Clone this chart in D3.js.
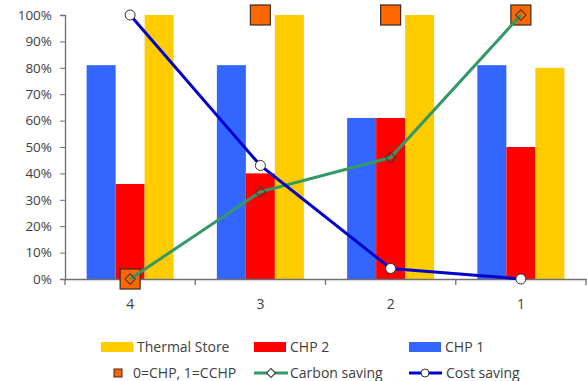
<!DOCTYPE html>
<html>
<head>
<meta charset="utf-8">
<script src="https://cdn.jsdelivr.net/npm/d3@7"></script>
<style>
  html, body { margin: 0; padding: 0; background: #fff; }
  svg { display: block; }
  text { font-family: "Open Sans", "Liberation Sans", sans-serif; fill: #404040; }
</style>
</head>
<body>
<svg id="chart" width="587" height="381"></svg>
<script>
// Scenario categories along the x axis
const categories = ["4", "3", "2", "1"];

// Bar series (share of demand, %)
const chp1 = [81, 81, 61, 81];
const chp2 = [36, 40, 61, 50];
const thermalStore = [100, 100, 100, 80];

// Line series (%)
const carbonSaving = [0, 33, 46, 100];
const costSaving = [100, 43, 4, 0];

// Configuration flag: 0 = CHP, 1 = CCHP
const cchpFlag = [0, 1, 1, 1];

const yTicks = [0, 10, 20, 30, 40, 50, 60, 70, 80, 90, 100];

const barSeries = [
  { name: "CHP 1", values: chp1, color: "#3366FF" },
  { name: "CHP 2", values: chp2, color: "#FF0000" },
  { name: "Thermal Store", values: thermalStore, color: "#FFCC00" }
];

const svg = d3.select("#chart");
const margin = { left: 65, right: 1, top: 15, bottom: 102 };
const W = 587, H = 381;

const x = d3.scaleBand().domain(categories).range([margin.left, W - margin.right]).paddingInner(0).paddingOuter(0);
const y = d3.scaleLinear().domain([0, 100]).range([H - margin.bottom, margin.top]);

const groupWidth = 87;
const xs = d3.scaleBand().domain(barSeries.map(d => d.name)).range([0, groupWidth]).padding(0);

// Bars
barSeries.forEach(s => {
  svg.append("g").selectAll("rect").data(s.values).join("rect")
    .attr("x", (d, i) => x(categories[i]) + (x.bandwidth() - groupWidth) / 2 + xs(s.name))
    .attr("y", d => y(d))
    .attr("width", xs.bandwidth())
    .attr("height", d => y(0) - y(d))
    .attr("fill", s.color);
});

// Y axis
const yAxis = d3.axisLeft(y).tickValues(yTicks).tickFormat(d => d + "%").tickSize(5).tickPadding(8);
const gy = svg.append("g").attr("transform", `translate(${margin.left},0)`).call(yAxis);
gy.select(".domain").attr("stroke", "#6f6f6f").attr("stroke-width", 1.3);
gy.selectAll(".tick line").attr("stroke", "#6f6f6f");
gy.selectAll(".tick text").style("font-size", "13.5px").attr("fill", "#404040");

// X axis
const xAxis = d3.axisBottom(x).tickSize(0).tickPadding(20);
const gx = svg.append("g").attr("transform", `translate(0,${y(0)})`).call(xAxis);
gx.select(".domain").attr("stroke", "#6f6f6f").attr("stroke-width", 1.5);
gx.selectAll(".tick text").style("font-size", "14px").attr("fill", "#404040");
// Category boundary ticks
const bounds = categories.map(c => x(c)).concat([x(categories[categories.length - 1]) + x.bandwidth()]);
gx.selectAll(".bound").data(bounds).join("line")
  .attr("x1", d => d).attr("x2", d => d).attr("y1", 0).attr("y2", 6)
  .attr("stroke", "#6f6f6f").attr("stroke-width", 1.3);

const cx = i => x(categories[i]) + x.bandwidth() / 2;

// CCHP flag markers
svg.append("g").selectAll("rect").data(cchpFlag).join("rect")
  .attr("x", (d, i) => cx(i) - 10)
  .attr("y", d => y(d * 100) - 10)
  .attr("width", 20).attr("height", 20)
  .attr("fill", "#FF6600").attr("stroke", "#3a2a20").attr("stroke-width", 1.2);

// Carbon saving line
const line = d3.line().x((d, i) => cx(i)).y(d => y(d));
svg.append("path").datum(carbonSaving).attr("d", line)
  .attr("fill", "none").attr("stroke", "#339966").attr("stroke-width", 3);
svg.append("g").selectAll("path").data(carbonSaving).join("path")
  .attr("transform", (d, i) => `translate(${cx(i)},${y(d)}) rotate(45)`)
  .attr("d", d3.symbol().type(d3.symbolSquare).size(55))
  .attr("fill", "none").attr("stroke", "#3a3a3a").attr("stroke-width", 1);

// Cost saving line
svg.append("path").datum(costSaving).attr("d", line)
  .attr("fill", "none").attr("stroke", "#0000CC").attr("stroke-width", 3);
svg.append("g").selectAll("circle").data(costSaving).join("circle")
  .attr("cx", (d, i) => cx(i)).attr("cy", d => y(d)).attr("r", 5)
  .attr("fill", "#fff").attr("stroke", "#333").attr("stroke-width", 1);

// Legend
const lg = svg.append("g").style("font-size", "14px");
const row1 = 347, row2 = 373;
const swatches = [
  { name: "Thermal Store", color: "#FFCC00", x: 101 },
  { name: "CHP 2", color: "#FF0000", x: 254 },
  { name: "CHP 1", color: "#3366FF", x: 409 }
];
swatches.forEach(s => {
  lg.append("rect").attr("x", s.x).attr("y", row1 - 5).attr("width", 32).attr("height", 10).attr("fill", s.color);
  lg.append("text").attr("x", s.x + 36).attr("y", row1).attr("dy", "0.35em").text(s.name);
});
// Flag legend
lg.append("rect").attr("x", 114).attr("y", row2 - 4).attr("width", 8).attr("height", 8)
  .attr("fill", "#FF6600").attr("stroke", "#3a2a20").attr("stroke-width", 1);
lg.append("text").attr("x", 133).attr("y", row2).attr("dy", "0.35em").text("0=CHP, 1=CCHP");
// Carbon saving legend
lg.append("line").attr("x1", 254).attr("x2", 288).attr("y1", row2).attr("y2", row2)
  .attr("stroke", "#339966").attr("stroke-width", 3);
lg.append("path").attr("transform", `translate(271,${row2}) rotate(45)`)
  .attr("d", d3.symbol().type(d3.symbolSquare).size(40))
  .attr("fill", "#fff").attr("stroke", "#333").attr("stroke-width", 1);
lg.append("text").attr("x", 290).attr("y", row2).attr("dy", "0.35em").text("Carbon saving");
// Cost saving legend
lg.append("line").attr("x1", 409).attr("x2", 442).attr("y1", row2).attr("y2", row2)
  .attr("stroke", "#0000CC").attr("stroke-width", 3);
lg.append("circle").attr("cx", 425).attr("cy", row2).attr("r", 4)
  .attr("fill", "#fff").attr("stroke", "#333").attr("stroke-width", 1);
lg.append("text").attr("x", 446).attr("y", row2).attr("dy", "0.35em").text("Cost saving");
</script>
</body>
</html>
